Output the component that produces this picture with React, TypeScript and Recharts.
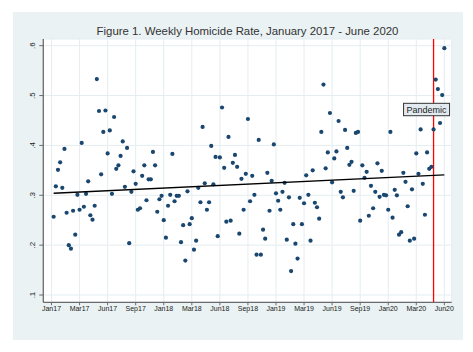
import { ScatterChart, Scatter, XAxis, YAxis, CartesianGrid } from 'recharts';

// weekly homicide rate, week 1 = first week of Jan 2017
const rates = [
  0.257, 0.318, 0.351, 0.366, 0.315, 0.393, 0.265, 0.2, 0.193, 0.269,
  0.221, 0.301, 0.271, 0.405, 0.277, 0.303, 0.328, 0.26, 0.251, 0.279,
  0.533, 0.469, 0.342, 0.427, 0.47, 0.384, 0.43, 0.303, 0.457, 0.353,
  0.36, 0.379, 0.408, 0.317, 0.395, 0.204, 0.307, 0.348, 0.323, 0.271,
  0.274, 0.339, 0.36, 0.29, 0.332, 0.332, 0.387, 0.36, 0.267, 0.292,
  0.299, 0.25, 0.215, 0.279, 0.301, 0.383, 0.288, 0.299, 0.299, 0.206,
  0.24, 0.169, 0.308, 0.242, 0.254, 0.191, 0.209, 0.315, 0.286, 0.437,
  0.324, 0.271, 0.286, 0.399, 0.322, 0.377, 0.218, 0.376, 0.476, 0.355,
  0.247, 0.417, 0.249, 0.365, 0.381, 0.357, 0.223, 0.333, 0.271, 0.343,
  0.453, 0.288, 0.339, 0.301, 0.181, 0.411, 0.181, 0.231, 0.213, 0.345,
  0.269, 0.329, 0.402, 0.304, 0.289, 0.271, 0.307, 0.325, 0.211, 0.296,
  0.148, 0.242, 0.203, 0.173, 0.295, 0.242, 0.284, 0.34, 0.301, 0.209,
  0.35, 0.285, 0.276, 0.253, 0.427, 0.522, 0.354, 0.386, 0.465, 0.326,
  0.374, 0.388, 0.449, 0.307, 0.296, 0.431, 0.395, 0.361, 0.367, 0.309,
  0.425, 0.427, 0.249, 0.36, 0.335, 0.347, 0.259, 0.319, 0.274, 0.307,
  0.364, 0.297, 0.349, 0.301, 0.3, 0.271, 0.427, 0.255, 0.311, 0.3,
  0.221, 0.226, 0.345, 0.327, 0.278, 0.209, 0.312, 0.213, 0.384, 0.343,
  0.432, 0.323, 0.261, 0.386, 0.353, 0.357, 0.432, 0.532, 0.513, 0.445,
  0.501, 0.595,
];

const tickWeeks = [0, 13, 26, 39, 52, 65, 78, 91, 104, 117, 130, 143, 156, 169, 182];
const tickLabels = [
  'Jan17', 'Mar17', 'Jun17', 'Sep17', 'Jan18', 'Mar18', 'Jun18', 'Sep18',
  'Jan19', 'Mar19', 'Jun19', 'Sep19', 'Jan20', 'Mar20', 'Jun20',
];
const yTicks = [0.1, 0.2, 0.3, 0.4, 0.5, 0.6];
const yTickLabels = ['.1', '.2', '.3', '.4', '.5', '.6'];
const yDomain = [0.0854, 0.6134];

// fitted linear trend, endpoints
const fitWeeks = [1, 182];
const fitRates = [0.304, 0.341];

const pandemicWeek = 177;
const pandemicLabelRate = 0.472;

const points = rates.map((rate, i) => ({ week: i + 1, rate }));
const fitLine = fitWeeks.map((week, i) => ({ week, rate: fitRates[i] }));
const pandemicLine = yDomain.map((rate) => ({ week: pandemicWeek, rate }));
const pandemicLabel = [{ week: pandemicWeek, rate: pandemicLabelRate }];

const FONT = '"Liberation Sans", Arial, sans-serif';
const BG = '#eaf2f3';
const NAVY = '#1a476f';
const AXIS = '#6b6b6b';
const RED = '#ff0000';

function XTick({ x, y, payload }: any) {
  const i = tickWeeks.indexOf(payload.value);
  return (
    <text x={x} y={y + 4} textAnchor="middle" fontSize={7} fill="#222" fontFamily={FONT}>
      {tickLabels[i]}
    </text>
  );
}

function YTick({ x, y, payload }: any) {
  const i = yTicks.findIndex((t) => Math.abs(t - payload.value) < 1e-6);
  return (
    <text
      transform={`translate(${x - 2.7},${y}) rotate(-90)`}
      textAnchor="middle"
      fontSize={8}
      fill="#222"
      fontFamily={FONT}
    >
      {yTickLabels[i]}
    </text>
  );
}

function PandemicBox({ cx, cy }: any) {
  const bx = cx - 30;
  const by = cy - 6.2;
  return (
    <g>
      <rect x={bx} y={by} width={46} height={12.4} fill="#e2eaf0" stroke="#333" strokeWidth={1} />
      <text x={bx + 23} y={by + 9.6} textAnchor="middle" fontSize={9} fill="#222" fontFamily={FONT}>
        Pandemic
      </text>
    </g>
  );
}

const Dot = (p: any) => <circle cx={p.cx} cy={p.cy} r={2.1} fill={NAVY} />;
const NoDot = () => <g />;

export default function App() {
  return (
    <div style={{ position: 'absolute', left: 0, top: 0, width: 473, height: 352, background: '#fff' }}>
      <div style={{ position: 'absolute', left: 13, top: 12, width: 450.3, height: 328, background: BG }}>
        <ScatterChart
          width={450.3}
          height={328}
          margin={{ top: 27, right: 11.6, left: 0, bottom: 0 }}
        >
          <CartesianGrid stroke="#e4edf0" fill="#fff" />
          <XAxis
            type="number"
            dataKey="week"
            domain={[-3.8, 185.4]}
            ticks={tickWeeks}
            interval={0}
            allowDataOverflow
            height={37.7}
            tickSize={3}
            tick={<XTick />}
            axisLine={{ stroke: AXIS, strokeWidth: 1.3 }}
            tickLine={{ stroke: AXIS }}
          />
          <YAxis
            type="number"
            dataKey="rate"
            domain={yDomain}
            ticks={yTicks}
            interval={0}
            allowDataOverflow
            width={30.3}
            tickSize={4}
            tick={<YTick />}
            axisLine={{ stroke: AXIS, strokeWidth: 1.3 }}
            tickLine={{ stroke: AXIS }}
          />
          <Scatter
            data={pandemicLine}
            shape={NoDot}
            fill={RED}
            line={{ stroke: RED, strokeWidth: 1.3 }}
            isAnimationActive={false}
          />
          <Scatter data={points} shape={Dot} isAnimationActive={false} />
          <Scatter
            data={fitLine}
            shape={NoDot}
            line={{ stroke: '#000', strokeWidth: 1.4 }}
            isAnimationActive={false}
          />
          <Scatter data={pandemicLabel} shape={PandemicBox} isAnimationActive={false} />
        </ScatterChart>
      </div>
      <div
        style={{
          position: 'absolute',
          left: 43.3,
          width: 408.4,
          top: 24,
          textAlign: 'center',
          fontFamily: FONT,
          fontSize: 11.4,
          lineHeight: '14px',
          color: '#333',
        }}
      >
        Figure 1. Weekly Homicide Rate, January 2017 - June 2020
      </div>
    </div>
  );
}
